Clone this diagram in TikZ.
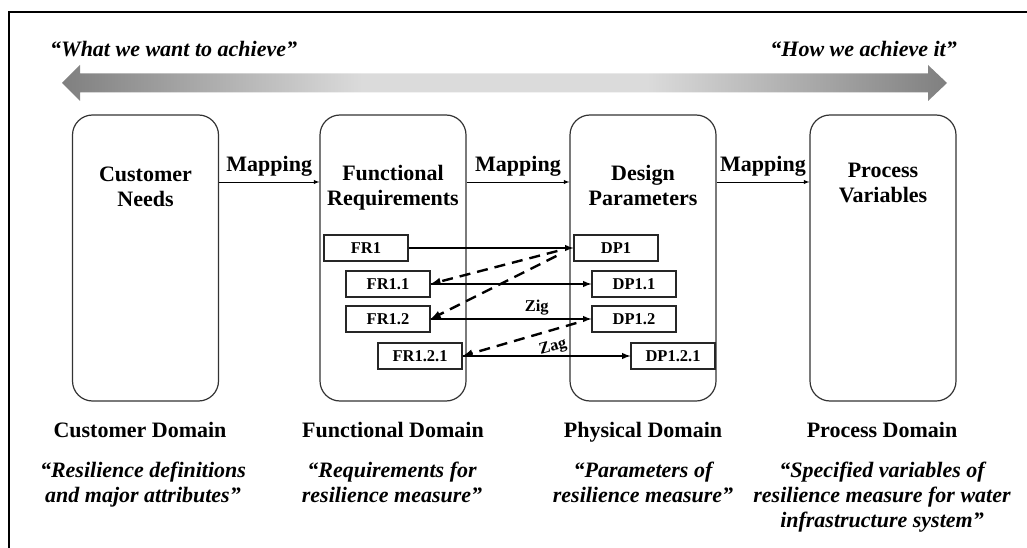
\documentclass[tikz,border=0pt]{standalone}
\usepackage{fontspec}
\setmainfont{Liberation Serif}
\usetikzlibrary{arrows,positioning}
\definecolor{arrowdark}{gray}{0.5}
\definecolor{arrowlight}{gray}{0.86}
\pgfdeclarehorizontalshading{twoway}{100bp}{color(0bp)=(arrowdark); color(25bp)=(arrowdark); color(42bp)=(arrowlight); color(58bp)=(arrowlight); color(75bp)=(arrowdark); color(100bp)=(arrowdark)}

\tikzset{
  domainbox/.style={draw=black!80, line width=1.2pt, rounded corners=20pt, minimum width=146pt, minimum height=286pt},
  itembox/.style={draw=black!85, fill=white, line width=1.2pt, minimum width=84pt, minimum height=26pt, inner sep=0pt, font=\fontsize{16.5}{18}\selectfont\bfseries},
  domaintitle/.style={align=center, font=\fontsize{22}{25}\selectfont\bfseries, inner sep=0pt},
  domainquote/.style={align=center, font=\fontsize{22}{25}\selectfont\bfseries\itshape, inner sep=0pt},
  maparrow/.style={-latex, line width=0.9pt},
  zigarrow/.style={-latex, line width=1.8pt},
  zagarrow/.style={-latex, line width=2.4pt, dash pattern=on 11pt off 7pt},
}

\begin{document}
\begin{tikzpicture}[x=1pt, y=-1pt]

\useasboundingbox (0,0) rectangle (1027,548);
\draw[line width=1.5pt] (9,548) -- (9,12) -- (1027,12);

% what / how arrow
\shade[shading=twoway] (62,83) -- (80,65) -- (80,73.5) -- (928,73.5) -- (928,65) -- (947,83)
  -- (928,101) -- (928,92.5) -- (80,92.5) -- (80,101) -- cycle;
\node[domainquote, anchor=base west] (want) at (50,57) {“What we want to achieve”};
\node[domainquote, anchor=base east] (how) at (957,57) {“How we achieve it”};

% domains
\node[domainbox] (cust) at (145.5,258) {};
\node[domainbox] (func) at (393,258) {};
\node[domainbox] (design) at (643,258) {};
\node[domainbox] (proc) at (883,258) {};

\node[domaintitle] (custtitle) at (145.5,187) {Customer\\Needs};
\node[domaintitle] (functitle) at (393,188) {Functional\\Requirements};
\node[domaintitle] (designtitle) at (643,185) {Design\\Parameters};
\node[domaintitle] (proctitle) at (883,182.5) {Process\\Variables};

\coordinate (maprow) at (0,182);
\draw[maparrow] (cust.east |- maprow) -- (func.west |- maprow) node[midway, above=5pt, domaintitle] {Mapping};
\draw[maparrow] (func.east |- maprow) -- (design.west |- maprow) node[midway, above=5pt, domaintitle] {Mapping};
\draw[maparrow] (design.east |- maprow) -- (proc.west |- maprow) node[midway, above=5pt, domaintitle] {Mapping};

% FRs and DPs
\node[itembox] (fr1) at (366,248) {FR1};
\node[itembox] (fr11) at (388,284) {FR1.1};
\node[itembox] (fr12) at (388,319) {FR1.2};
\node[itembox] (fr121) at (420,356) {FR1.2.1};
\node[itembox] (dp1) at (616,248) {DP1};
\node[itembox] (dp11) at (634,284) {DP1.1};
\node[itembox] (dp12) at (634,319) {DP1.2};
\node[itembox] (dp121) at (673,356) {DP1.2.1};

\draw[zigarrow] (fr1) -- (dp1);
\draw[zigarrow] (fr11) -- (dp11);
\draw[zigarrow] (fr12) -- (dp12) node[pos=0.66, above=0pt, font=\fontsize{16.5}{18}\selectfont\bfseries] {Zig};
\draw[zigarrow] (fr121) -- (dp121);

\draw[zagarrow] ([shift={(-16,3)}]dp1.west) -- (fr11.east);
\draw[zagarrow] ([shift={(-17,8)}]dp1.west) -- (fr12.east);
\draw[zagarrow] ([shift={(-15,4)}]dp12.west) -- (fr121.east);
\node[rotate=15, inner sep=0pt, font=\fontsize{16.5}{18}\selectfont\bfseries] (zag) at (553,347) {Zag};

% domain names
\node[domaintitle, anchor=base] (custdom) at (140,437) {Customer Domain};
\node[domaintitle, anchor=base] (funcdom) at (393,437) {Functional Domain};
\node[domaintitle, anchor=base] (physdom) at (643,437) {Physical Domain};
\node[domaintitle, anchor=base] (procdom) at (882,437) {Process Domain};

\node[domainquote, anchor=north] (custquote) at (143,462) {“Resilience definitions\\and major attributes”};
\node[domainquote, anchor=north] (funcquote) at (392,462) {“Requirements for\\resilience measure”};
\node[domainquote, anchor=north] (physquote) at (643,462) {“Parameters of\\resilience measure”};
\node[domainquote, anchor=north] (procquote) at (882,462) {“Specified variables of\\resilience measure for water\\infrastructure system”};

\end{tikzpicture}
\end{document}
